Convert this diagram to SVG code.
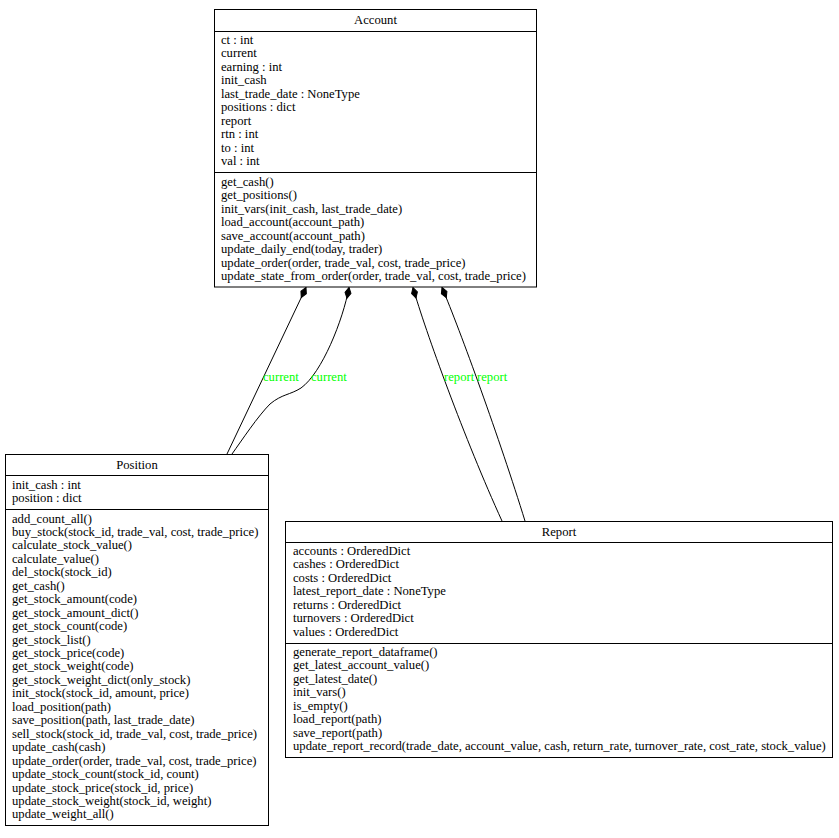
<svg xmlns="http://www.w3.org/2000/svg" width="839" height="838" viewBox="0 0 839 838">
<style>
.box{fill:#fff;stroke:#000;stroke-width:1}
.sep{stroke:#000;stroke-width:1}
text{font-family:"Liberation Serif","Times New Roman",serif;font-size:12.65px;fill:#000}
.t{text-anchor:middle}
.lbl{fill:#00ff00}
.edge{fill:none;stroke:#000;stroke-width:1}
</style>
<defs>
<marker id="diamond" markerUnits="userSpaceOnUse" markerWidth="12" markerHeight="8" refX="0" refY="4" orient="auto" viewBox="0 0 12 8" overflow="visible">
<path d="M0,4 L5.5,1 L11,4 L5.5,7 Z" fill="#000" stroke="#000" stroke-width="1"/>
</marker>
</defs>
<rect width="839" height="838" fill="#fff"/>
<g id="connectors">
<path class="edge" d="M306,287.5 L227,454" marker-start="url(#diamond)"/>
<path class="edge" d="M349,287.5 C343,320 322,373 301,388 C290,395 282,394 270,404 C258,416 242,440 232,454" marker-start="url(#diamond)"/>
<path class="edge" d="M413,287.5 C425,330 465,440 502,521" marker-start="url(#diamond)"/>
<path class="edge" d="M442,287.5 C460,330 500,440 525,521" marker-start="url(#diamond)"/>
<text class="lbl" x="263" y="381">current</text>
<text class="lbl" x="311" y="381">current</text>
<text class="lbl" x="444" y="381">report</text>
<text class="lbl" x="477" y="381">report</text>
</g>
<g id="Account">
<rect class="box" x="214.5" y="9.5" width="322" height="277.5"/>
<line class="sep" x1="214.5" y1="31.5" x2="536.5" y2="31.5"/>
<line class="sep" x1="214.5" y1="172.5" x2="536.5" y2="172.5"/>
<text class="t" x="375.5" y="24">Account</text>
<text x="221" y="44">ct : int</text>
<text x="221" y="57.45">current</text>
<text x="221" y="70.9">earning : int</text>
<text x="221" y="84.35">init_cash</text>
<text x="221" y="97.8">last_trade_date : NoneType</text>
<text x="221" y="111.25">positions : dict</text>
<text x="221" y="124.7">report</text>
<text x="221" y="138.15">rtn : int</text>
<text x="221" y="151.6">to : int</text>
<text x="221" y="165.05">val : int</text>
<text x="221" y="186">get_cash()</text>
<text x="221" y="199.45">get_positions()</text>
<text x="221" y="212.9">init_vars(init_cash, last_trade_date)</text>
<text x="221" y="226.35">load_account(account_path)</text>
<text x="221" y="239.8">save_account(account_path)</text>
<text x="221" y="253.25">update_daily_end(today, trader)</text>
<text x="221" y="266.7">update_order(order, trade_val, cost, trade_price)</text>
<text x="221" y="280.15">update_state_from_order(order, trade_val, cost, trade_price)</text>
</g>
<g id="Position">
<rect class="box" x="5.5" y="454.5" width="263" height="371"/>
<line class="sep" x1="5.5" y1="475.5" x2="268.5" y2="475.5"/>
<line class="sep" x1="5.5" y1="509.5" x2="268.5" y2="509.5"/>
<text class="t" x="137" y="469">Position</text>
<text x="12" y="489">init_cash : int</text>
<text x="12" y="502.45">position : dict</text>
<text x="12" y="522.5">add_count_all()</text>
<text x="12" y="535.95">buy_stock(stock_id, trade_val, cost, trade_price)</text>
<text x="12" y="549.4">calculate_stock_value()</text>
<text x="12" y="562.85">calculate_value()</text>
<text x="12" y="576.3">del_stock(stock_id)</text>
<text x="12" y="589.75">get_cash()</text>
<text x="12" y="603.2">get_stock_amount(code)</text>
<text x="12" y="616.65">get_stock_amount_dict()</text>
<text x="12" y="630.1">get_stock_count(code)</text>
<text x="12" y="643.55">get_stock_list()</text>
<text x="12" y="657">get_stock_price(code)</text>
<text x="12" y="670.45">get_stock_weight(code)</text>
<text x="12" y="683.9">get_stock_weight_dict(only_stock)</text>
<text x="12" y="697.35">init_stock(stock_id, amount, price)</text>
<text x="12" y="710.8">load_position(path)</text>
<text x="12" y="724.25">save_position(path, last_trade_date)</text>
<text x="12" y="737.7">sell_stock(stock_id, trade_val, cost, trade_price)</text>
<text x="12" y="751.15">update_cash(cash)</text>
<text x="12" y="764.6">update_order(order, trade_val, cost, trade_price)</text>
<text x="12" y="778.05">update_stock_count(stock_id, count)</text>
<text x="12" y="791.5">update_stock_price(stock_id, price)</text>
<text x="12" y="804.95">update_stock_weight(stock_id, weight)</text>
<text x="12" y="818.4">update_weight_all()</text>
</g>
<g id="Report">
<rect class="box" x="285.5" y="521.5" width="547" height="236"/>
<line class="sep" x1="285.5" y1="542.5" x2="832.5" y2="542.5"/>
<line class="sep" x1="285.5" y1="643.5" x2="832.5" y2="643.5"/>
<text class="t" x="559" y="536">Report</text>
<text x="293" y="555">accounts : OrderedDict</text>
<text x="293" y="568.45">cashes : OrderedDict</text>
<text x="293" y="581.9">costs : OrderedDict</text>
<text x="293" y="595.35">latest_report_date : NoneType</text>
<text x="293" y="608.8">returns : OrderedDict</text>
<text x="293" y="622.25">turnovers : OrderedDict</text>
<text x="293" y="635.7">values : OrderedDict</text>
<text x="293" y="656">generate_report_dataframe()</text>
<text x="293" y="669.45">get_latest_account_value()</text>
<text x="293" y="682.9">get_latest_date()</text>
<text x="293" y="696.35">init_vars()</text>
<text x="293" y="709.8">is_empty()</text>
<text x="293" y="723.25">load_report(path)</text>
<text x="293" y="736.7">save_report(path)</text>
<text x="293" y="750.15">update_report_record(trade_date, account_value, cash, return_rate, turnover_rate, cost_rate, stock_value)</text>
</g>
</svg>
